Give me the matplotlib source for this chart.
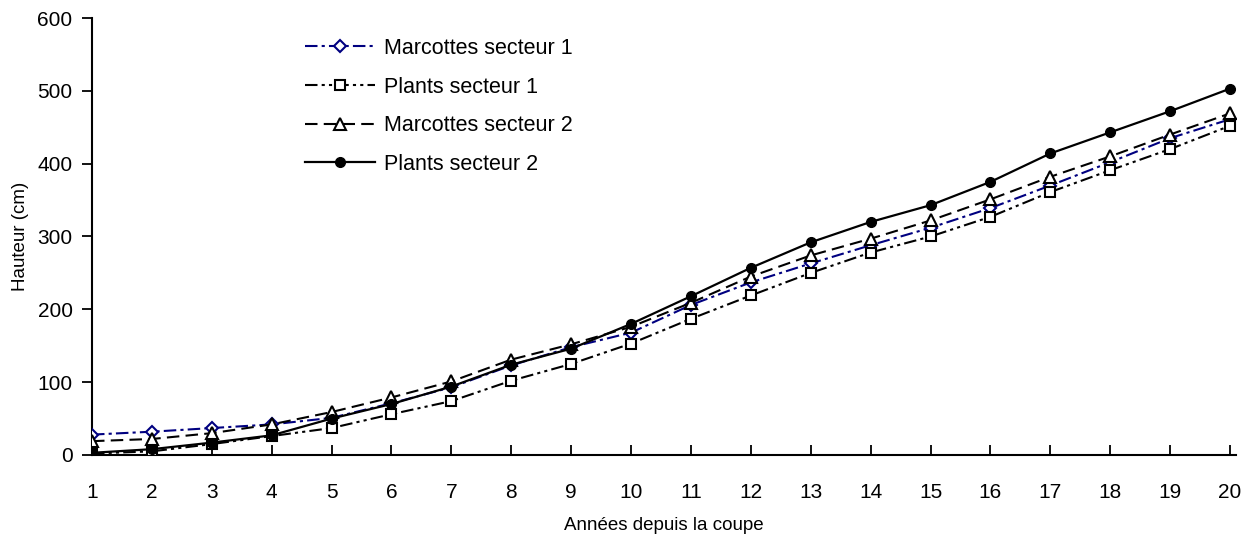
import matplotlib
matplotlib.use("Agg")
import matplotlib.pyplot as plt

years = list(range(1, 21))
marcottes_s1 = [28, 32, 37, 42, 51, 71, 93, 123, 148, 168, 206, 237, 263, 288, 312, 339, 370, 402, 435, 461]
plants_s1 = [2, 5, 15, 26, 37, 56, 74, 102, 125, 153, 187, 219, 250, 278, 300, 327, 361, 391, 420, 452]
marcottes_s2 = [19, 22, 30, 42, 59, 79, 101, 131, 152, 176, 209, 245, 274, 297, 322, 351, 382, 410, 440, 469]
plants_s2 = [3, 8, 17, 27, 50, 70, 94, 124, 146, 180, 218, 257, 292, 320, 343, 375, 414, 443, 472, 503]
labels = ["Marcottes secteur 1", "Plants secteur 1", "Marcottes secteur 2", "Plants secteur 2"]
yticks = [0, 100, 200, 300, 400, 500, 600]

plt.rcParams['font.family'] = ['Liberation Sans', 'DejaVu Sans']

fig = plt.figure(figsize=(12.42, 5.35), dpi=100)
ax = fig.add_axes([92/1242, 80/535, (1236-92)/1242, (455-18)/535])

ax.plot(years, marcottes_s1, color='#000080', linestyle=(0, (6, 2, 1.5, 2)), linewidth=1.5,
        marker='D', markersize=6, markerfacecolor='white', markeredgecolor='#000080',
        markeredgewidth=1.5, label=labels[0], zorder=3)
ax.plot(years, plants_s1, color='black', linestyle=(0, (6, 2, 1.5, 2, 1.5, 2)), linewidth=1.5,
        marker='s', markersize=7, markerfacecolor='white', markeredgecolor='black',
        markeredgewidth=1.5, label=labels[1], zorder=3)
ax.plot(years, marcottes_s2, color='black', linestyle=(0, (6, 3)), linewidth=1.5,
        marker='^', markersize=8, markerfacecolor='white', markeredgecolor='black',
        markeredgewidth=1.5, label=labels[2], zorder=3)
ax.plot(years, plants_s2, color='black', linestyle='-', linewidth=1.6,
        marker='o', markersize=7, markerfacecolor='black', markeredgecolor='black',
        label=labels[3], zorder=4)

ax.set_xlim(1, 20.1)
ax.set_ylim(0, 600)
ax.set_xticks(years)
ax.set_yticks(yticks)
for s in ['top', 'right']:
    ax.spines[s].set_visible(False)
for s in ['left', 'bottom']:
    ax.spines[s].set_linewidth(1.5)
    ax.spines[s].set_clip_on(False)
ax.tick_params(axis='x', direction='in', length=7, width=1.3, labelsize=15, pad=20)
ax.tick_params(axis='y', direction='out', length=7, width=1.3, labelsize=15, pad=7)

ax.set_xlabel("Années depuis la coupe", fontsize=13.5, labelpad=11)
ax.set_ylabel("Hauteur (cm)", fontsize=13.5, labelpad=6)

leg = ax.legend(loc='upper left', bbox_to_anchor=(305/1242, 1 - 38/535), bbox_transform=fig.transFigure,
                frameon=False, fontsize=15.5, handlelength=3.25, labelspacing=0.82, handletextpad=0.4,
                numpoints=1, borderaxespad=0, borderpad=0)

fig.savefig("out.png", dpi=100)
